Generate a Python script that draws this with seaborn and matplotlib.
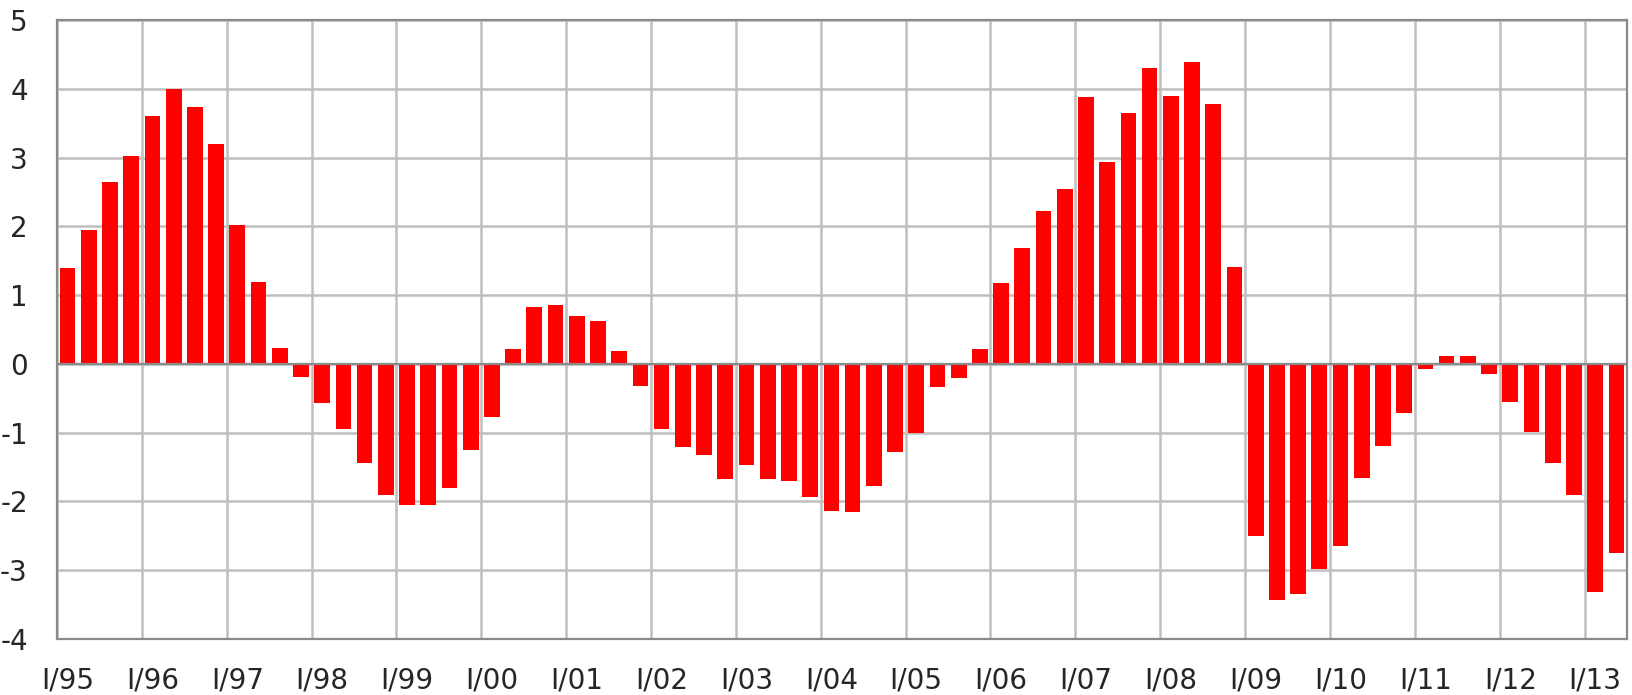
import matplotlib
matplotlib.use("Agg")
import matplotlib.pyplot as plt
import seaborn as sns
import pandas as pd

# quarterly values, I/95 .. II/13
years = ["95", "96", "97", "98", "99", "00", "01", "02", "03", "04",
         "05", "06", "07", "08", "09", "10", "11", "12", "13"]
quarters = ["I", "II", "III", "IV"]
values = [
    1.39, 1.95, 2.64, 3.03,
    3.61, 3.99, 3.74, 3.19,
    2.02, 1.19, 0.23, -0.19,
    -0.57, -0.94, -1.44, -1.90,
    -2.05, -2.05, -1.81, -1.25,
    -0.77, 0.21, 0.83, 0.86,
    0.70, 0.63, 0.19, -0.32,
    -0.95, -1.21, -1.32, -1.68,
    -1.47, -1.68, -1.70, -1.94,
    -2.14, -2.16, -1.77, -1.28,
    -1.00, -0.34, -0.21, 0.21,
    1.17, 1.69, 2.23, 2.55,
    3.88, 2.94, 3.65, 4.30,
    3.89, 4.39, 3.78, 1.41,
    -2.50, -3.43, -3.35, -2.98,
    -2.65, -1.66, -1.19, -0.71,
    -0.08, 0.12, 0.11, -0.15,
    -0.56, -0.99, -1.44, -1.90,
    -3.31, -2.75,
]
y_ticks = [5, 4, 3, 2, 1, 0, -1, -2, -3, -4]

labels = [f"{q}/{y}" for y in years for q in quarters][:len(values)]
df = pd.DataFrame({"quarter": labels, "value": values})

sns.set_style("white")
plt.rcParams["font.family"] = ["DejaVu Sans"]

fig, ax = plt.subplots(figsize=(16.33, 6.95), dpi=100)
fig.subplots_adjust(left=0.0349, right=0.9963, top=0.9712, bottom=0.0806)

sns.barplot(data=df, x="quarter", y="value", color="#ff0000", saturation=1,
            width=0.74, linewidth=0, edgecolor="none", ax=ax, zorder=3)

n = len(values)
ax.set_xlim(-0.5, n - 0.5)
ax.set_ylim(-4, 5)
ax.set_yticks(y_ticks)
ax.set_yticklabels([str(t) for t in y_ticks])

# year labels under the first quarter, gridlines between years
major = list(range(0, n, 4))
ax.set_xticks(major)
ax.set_xticklabels([labels[i] for i in major])
ax.set_xticks([i - 0.5 for i in major], minor=True)

ax.grid(False)
ax.yaxis.grid(True, color="#bfbfbf", linewidth=1.8, zorder=0)
ax.xaxis.grid(True, which="minor", color="#bfbfbf", linewidth=1.8, zorder=0)
ax.set_axisbelow(True)
ax.axhline(0, color="#8a8a8a", linewidth=1.6, zorder=4)

for s in ax.spines.values():
    s.set_visible(True)
    s.set_color("#8a8a8a")
    s.set_linewidth(1.6)

ax.tick_params(axis="both", which="both", length=0, labelsize=20, labelcolor="#262626")
ax.tick_params(axis="y", pad=21)
ax.tick_params(axis="x", pad=20)
ax.set_xlabel("")
ax.set_ylabel("")

fig.savefig("out.png", dpi=100)
